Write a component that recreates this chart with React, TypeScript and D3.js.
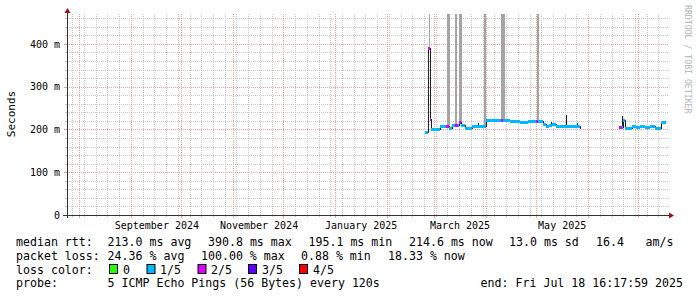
import React from "react";
import * as d3 from "d3";

const parseTime = d3.timeParse("%Y-%m-%d %H:%M");

// time window of the graph
const windowStart = "2024-07-24 20:00";
const windowEnd = "2025-07-18 16:18";

// y axis (milliseconds)
const yMaxMs = 470;
const yMajorTicks = [0, 100, 200, 300, 400];
const yTickLabels = ["0", "100 m", "200 m", "300 m", "400 m"];
const yMinorTicks = [20, 40, 60, 80, 120, 140, 160, 180, 220, 240, 260, 280, 320, 340, 360, 380, 420, 440, 460];

// x axis labels
const monthLabelStarts = ["2024-09-01 00:00", "2024-11-01 00:00", "2025-01-01 00:00", "2025-03-01 00:00", "2025-05-01 00:00"];
const monthLabelTexts = ["September 2024", "November 2024", "January 2025", "March 2025", "May 2025"];

// median rtt steps (ms); null = no data
const medianTimes = [
  "2025-02-23 14:00", "2025-02-25 16:00", "2025-02-26 07:00", "2025-02-27 04:00",
  "2025-03-04 13:00", "2025-03-08 03:00", "2025-03-09 22:00", "2025-03-11 17:00",
  "2025-03-13 12:00", "2025-03-15 00:00", "2025-03-15 21:00", "2025-03-17 02:00",
  "2025-03-19 11:00", "2025-03-23 16:00", "2025-04-01 07:00", "2025-04-06 09:00",
  "2025-04-09 23:00", "2025-04-11 04:00", "2025-04-15 08:00", "2025-04-18 08:00",
  "2025-04-21 07:00", "2025-04-26 02:00", "2025-04-29 02:00", "2025-04-30 21:00",
  "2025-05-02 01:00", "2025-05-05 01:00", "2025-05-06 20:00", "2025-05-08 15:00",
  "2025-05-10 10:00", "2025-05-12 19:00", "2025-05-15 05:00", "2025-05-22 09:00",
  "2025-05-27 03:00", "2025-05-27 18:00",
  "2025-06-19 17:00", "2025-06-20 22:00", "2025-06-21 19:00", "2025-06-23 00:00",
  "2025-06-27 05:00", "2025-06-29 14:00", "2025-07-01 23:00", "2025-07-04 23:00",
  "2025-07-07 23:00", "2025-07-10 22:00", "2025-07-14 12:00", "2025-07-17 12:00",
];
const medianValues: (number | null)[] = [
  194, 390, 225, 202,
  209, 209, 204, 210,
  210, 210, 218, 210,
  203, 209, 223, 222,
  222, 221, 220, 219,
  218, 219, 220, 220,
  220, 212, 207, 210,
  212, 209, 208, 207,
  205, null,
  205, 205, 222, 203,
  209, 205, 207, 205,
  208, 204, 217, null,
];
const medianLoss = [
  1, 2, 2, 1,
  1, 2, 1, 1,
  2, 1, 2, 1,
  1, 1, 1, 1,
  2, 1, 1, 1,
  1, 1, 1, 2,
  1, 1, 1, 1,
  1, 1, 1, 1,
  3, 0,
  2, 1, 1, 1,
  1, 1, 1, 1,
  1, 1, 1, 0,
];

// tall smoke (ms)
const smokeStarts = ["2025-02-25 20:00", "2025-03-08 13:00", "2025-03-13 12:00", "2025-03-15 17:00", "2025-03-30 20:00", "2025-04-09 23:00", "2025-05-01 07:00"];
const smokeEnds = ["2025-02-26 18:00", "2025-03-10 12:00", "2025-03-14 21:00", "2025-03-17 16:00", "2025-04-01 00:00", "2025-04-12 09:00", "2025-05-02 16:00"];
const smokeLows = [388, 209, 210, 218, 209, 222, 220];
const smokeHighs = [500, 500, 500, 500, 500, 500, 500];

// dark spikes (ms)
const spikeTimes = ["2025-03-27 06:00", "2025-05-09 13:00", "2025-05-18 19:00", "2025-05-25 08:00", "2025-06-21 05:00"];
const spikeTops = [214, 218, 234, 215, 232];
const spikeBases = [209, 210, 208, 207, 205];

// loss legend
const lossLabels = ["0", "1/5", "2/5", "3/5", "4/5"];
const lossColors = ["#26ff00", "#00b8ff", "#dd00ff", "#5e00ff", "#ff0000"];

const rttLegend = ["median rtt:", "213.0 ms avg", "390.8 ms max", "195.1 ms min", "214.6 ms now", "13.0 ms sd", "16.4", "am/s"];
const lossLegend = ["packet loss:", "24.36 % avg", "100.00 % max", "0.88 % min", "18.33 % now"];

const MONO = "'DejaVu Sans Mono', monospace";

export default function App() {
  const t0 = parseTime(windowStart)!;
  const t1 = parseTime(windowEnd)!;
  const X0 = 67, X1 = 668, Y0 = 215, YT = 14;
  const x = d3.scaleTime().domain([t0, t1]).range([X0, X1]);
  const y = d3.scaleLinear().domain([0, yMaxMs]).range([Y0, YT]);
  const px = (v: number) => Math.round(v) + 0.5;

  const months = d3.timeMonth.range(t0, t1);
  const monthSet = new Set(months.map((d) => +d));
  const weeks = d3.timeSunday.range(t0, t1).filter((d) => !monthSet.has(+d));

  // median step path
  let path = "";
  const bands: { x0: number; x1: number; y: number; c: string }[] = [];
  for (let i = 0; i < medianTimes.length - 1; i++) {
    const v = medianValues[i];
    if (v == null) continue;
    const xa = Math.round(x(parseTime(medianTimes[i])!));
    const xb = Math.round(x(parseTime(medianTimes[i + 1])!));
    const yy = px(y(v));
    const prev = i > 0 ? medianValues[i - 1] : null;
    path += prev == null ? `M${xa},${yy}` : `L${xa},${yy}`;
    path += `L${xb},${yy}`;
    bands.push({ x0: xa, x1: xb, y: yy, c: lossColors[medianLoss[i]] });
  }

  const legendBase = 245.5;
  const rttX = [16, 107.6, 208, 308.5, 409, 509, 596, 645.5];
  const lossX = [16, 107.6, 201, 301, 388];
  const swatchX = [109, 146.5, 197.5, 248, 299];
  const swatchLabelX = [123, 160, 211, 262, 313];

  return (
    <svg width={697} height={297} style={{ position: "absolute", left: 0, top: 0, background: "#fff" }} xmlns="http://www.w3.org/2000/svg">
      <defs>
        <clipPath id="plot">
          <rect x={X0} y={YT} width={X1 - X0 + 1} height={Y0 - YT} />
        </clipPath>
      </defs>
      <rect x={0} y={0} width={697} height={297} fill="#ffffff" />

      {/* minor grid */}
      <g stroke="#c8c8c8" strokeWidth={1} shapeRendering="crispEdges">
        {yMinorTicks.map((v) => (
          <g key={"hy" + v}>
            <line x1={X0 - 2} x2={X0} y1={px(y(v))} y2={px(y(v))} />
            <line x1={X0} x2={X1} y1={px(y(v))} y2={px(y(v))} strokeDasharray="1,1" />
          </g>
        ))}
        {weeks.map((d) => (
          <g key={"vx" + +d}>
            <line x1={px(x(d))} x2={px(x(d))} y1={Y0} y2={Y0 + 2} />
            <line x1={px(x(d))} x2={px(x(d))} y1={Y0} y2={YT} strokeDasharray="1,1" />
          </g>
        ))}
      </g>
      {/* major grid */}
      <g stroke="#eb9f9f" strokeWidth={1} shapeRendering="crispEdges">
        {yMajorTicks.filter((v) => v > 0).map((v) => (
          <g key={"my" + v}>
            <line x1={X0 - 3} x2={X0} y1={px(y(v))} y2={px(y(v))} />
            <line x1={X0} x2={X1} y1={px(y(v))} y2={px(y(v))} strokeDasharray="1,1" />
          </g>
        ))}
        {months.map((d) => (
          <g key={"mx" + +d}>
            <line x1={px(x(d))} x2={px(x(d))} y1={Y0} y2={Y0 + 3} />
            <line x1={px(x(d))} x2={px(x(d))} y1={Y0} y2={YT} strokeDasharray="1,1" />
          </g>
        ))}
      </g>

      {/* data */}
      <g clipPath="url(#plot)" shapeRendering="crispEdges">
        {smokeStarts.map((s, i) => {
          const xa = Math.round(x(parseTime(s)!));
          const xb = Math.round(x(parseTime(smokeEnds[i])!));
          const ya = y(smokeHighs[i]);
          const yb = y(smokeLows[i]);
          return <rect key={"sm" + i} x={xa} y={ya} width={Math.max(1, xb - xa)} height={yb - ya} fill="#a4a4a4" />;
        })}
        {spikeTimes.map((s, i) => {
          const xa = Math.round(x(parseTime(s)!));
          const ya = y(spikeTops[i]);
          const yb = y(spikeBases[i]);
          return <rect key={"sp" + i} x={xa} y={ya} width={1} height={yb - ya} fill="#202020" />;
        })}
        <path d={path} fill="none" stroke="#202020" strokeWidth={1} />
        {bands.map((b, i) => (
          <rect key={"b" + i} x={b.x0} y={b.y - 1.5} width={Math.max(1, b.x1 - b.x0)} height={3} fill={b.c} />
        ))}
      </g>

      {/* axes */}
      <g stroke="#333" strokeWidth={1} shapeRendering="crispEdges">
        <line x1={63} x2={670} y1={Y0 + 0.5} y2={Y0 + 0.5} />
        <line x1={X0 + 0.5} x2={X0 + 0.5} y1={Y0 + 3} y2={12} />
      </g>
      <path d={`M${X0 + 0.5},8 L${X0 - 2.5},13 L${X0 + 3.5},13 Z`} fill="#a01010" />
      <path d={`M674,${Y0 + 0.5} L669,${Y0 - 2.5} L669,${Y0 + 3.5} Z`} fill="#a01010" />

      {/* y tick labels */}
      <g fontFamily={MONO} fontSize={10} fill="#000" textAnchor="end">
        {yMajorTicks.map((v, i) => (
          <text key={"yl" + v} x={60} y={y(v) + 3.6}>{yTickLabels[i]}</text>
        ))}
      </g>
      {/* x labels */}
      <g fontFamily={MONO} fontSize={10} fill="#000" textAnchor="middle">
        {monthLabelStarts.map((s, i) => {
          const d = parseTime(s)!;
          const mid = d3.timeHour.offset(d, 372);
          return <text key={"xl" + i} x={x(mid)} y={228.5}>{monthLabelTexts[i]}</text>;
        })}
      </g>
      {/* y title */}
      <text transform="translate(15,114) rotate(-90)" fontFamily={MONO} fontSize={11} textAnchor="middle" fill="#000">Seconds</text>
      {/* watermark */}
      <text transform="translate(685,5) rotate(90)" fontFamily={MONO} fontSize={8.2} fill="#b4b4b4">RRDTOOL / TOBI OETIKER</text>

      {/* legend */}
      <g fontFamily={MONO} fontSize={11.6} fill="#000">
        {rttLegend.map((s, i) => (
          <text key={"r" + i} x={rttX[i]} y={legendBase} xmlSpace="preserve">{s}</text>
        ))}
        {lossLegend.map((s, i) => (
          <text key={"l" + i} x={lossX[i]} y={legendBase + 14} xmlSpace="preserve">{s}</text>
        ))}
        <text x={16} y={legendBase + 28}>loss color:</text>
        {lossLabels.map((s, i) => (
          <g key={"c" + i}>
            <rect x={swatchX[i] + 0.5} y={264.5} width={8} height={9} fill={lossColors[i]} stroke="#000" strokeWidth={1} />
            <text x={swatchLabelX[i]} y={legendBase + 28}>{s}</text>
          </g>
        ))}
        <text x={16} y={legendBase + 41.5}>probe:</text>
        <text x={107.6} y={legendBase + 41.5}>5 ICMP Echo Pings (56 Bytes) every 120s</text>
        <text x={683} y={legendBase + 41.5} textAnchor="end">end: Fri Jul 18 16:17:59 2025</text>
      </g>
    </svg>
  );
}
